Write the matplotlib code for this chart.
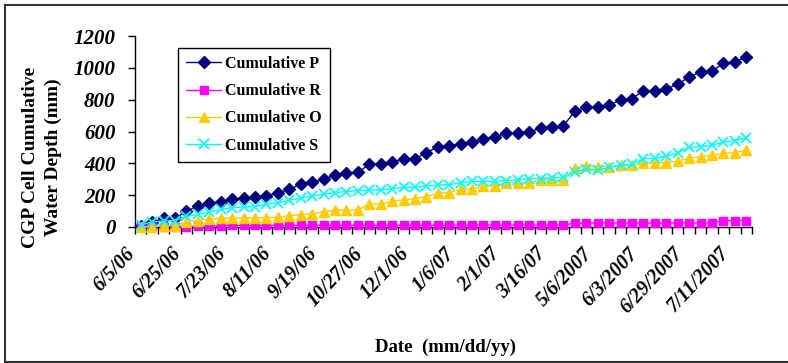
import matplotlib
matplotlib.use("Agg")
import matplotlib.pyplot as plt
import matplotlib.transforms as mtransforms
from matplotlib.lines import Line2D
import numpy as np

# category labels shown every 4th sampling date
date_labels = ["6/5/06", "6/25/06", "7/23/06", "8/11/06", "9/19/06", "10/27/06",
               "12/1/06", "1/6/07", "2/1/07", "3/16/07", "5/6/2007", "6/3/2007",
               "6/29/2007", "7/11/2007"]

# cumulative water depths (mm) per sampling date
cum_p = [8, 29, 54, 54, 100, 130, 151, 159, 176, 180,
         188, 197, 213, 238, 268, 280, 301, 326, 339, 343,
         393, 393, 410, 426, 426, 468, 502, 510, 523, 531,
         556, 564, 590, 590, 594, 623, 627, 636, 728, 753,
         757, 765, 799, 807, 857, 857, 866, 899, 941, 974,
         978, 1029, 1037, 1066]
cum_r = [5, 3, 2, 2, 2, 5, 8, 9, 10, 10,
         10, 10, 10, 10, 10, 11, 11, 11, 11, 11,
         11, 11, 11, 11, 11, 11, 11, 12, 12, 12,
         12, 12, 12, 12, 12, 12, 12, 12, 24, 25,
         25, 25, 25, 25, 25, 25, 25, 25, 25, 25,
         25, 40, 40, 40]
cum_o = [0, 2, 8, 8, 32, 40, 50, 55, 58, 58,
         58, 59, 61, 71, 78, 83, 95, 106, 106, 106,
         145, 145, 161, 170, 178, 191, 213, 216, 237, 237,
         258, 258, 279, 279, 279, 295, 295, 295, 371, 383,
         380, 379, 387, 387, 400, 404, 404, 413, 433, 442,
         450, 463, 467, 484]
cum_s = [15, 30, 38, 40, 66, 80, 95, 110, 122, 125,
         128, 143, 152, 168, 183, 195, 205, 216, 222, 229,
         231, 233, 240, 249, 249, 258, 263, 266, 278, 287,
         287, 288, 291, 295, 304, 304, 308, 312, 346, 362,
         358, 374, 388, 394, 430, 431, 444, 467, 500, 505,
         513, 534, 542, 559]

plt.rcParams["font.family"] = ["Liberation Serif", "DejaVu Serif"]

W, H = 788, 363
fig = plt.figure(figsize=(W / 100, H / 100), dpi=100)
ax = fig.add_axes([135 / W, 1 - 227 / H, (752 - 135) / W, (227 - 36) / H])

x = np.arange(len(cum_p))
ax.plot(x, cum_p, color="#000080", lw=1, marker="D", ms=6, label="Cumulative P", clip_on=False, zorder=3)
ax.plot(x, cum_r, color="#FF00FF", lw=1, marker="s", ms=6, label="Cumulative R", clip_on=False, zorder=3)
ax.plot(x, cum_o, color="#FFCC00", lw=1, marker="^", ms=7.5, label="Cumulative O", clip_on=False, zorder=3)
ax.plot(x, cum_s, color="#00FFFF", lw=1, marker="x", ms=6.5, mew=1.3, label="Cumulative S", clip_on=False, zorder=3)

ax.set_xlim(-0.5, len(x) - 0.5)
ax.set_ylim(0, 1200)
ax.set_yticks(range(0, 1201, 200))
ax.set_yticklabels([str(v) for v in range(0, 1201, 200)],
                   fontsize=15, fontweight="bold", fontstyle="italic")
ax.tick_params(axis="y", length=5, width=1, pad=9, direction="out")

ax.set_xticks(np.arange(-0.5, len(x), 1), minor=True)
ax.set_xticks(x[::4])
ax.set_xticklabels(date_labels, rotation=47, ha="right", va="center",
                   rotation_mode="anchor", fontsize=14.5, fontweight="bold",
                   fontstyle="italic")
ax.tick_params(axis="x", which="major", length=0, pad=17)
ax.tick_params(axis="x", which="minor", length=5, width=1, direction="out")
shift = mtransforms.ScaledTranslation(-0.09, 0, fig.dpi_scale_trans)
for lab in ax.get_xticklabels():
    lab.set_transform(lab.get_transform() + shift)

for side in ("top", "right"):
    ax.spines[side].set_visible(False)
for side in ("left", "bottom"):
    ax.spines[side].set_linewidth(1)
    ax.spines[side].set_color("black")

leg = ax.legend(loc="upper left", bbox_to_anchor=(178 / W, 1 - 48 / H),
                bbox_transform=fig.transFigure, fancybox=False, framealpha=1,
                edgecolor="black", prop={"weight": "bold", "size": 11.5},
                handlelength=2.2, handletextpad=0.25, labelspacing=0.7,
                borderpad=0.5, borderaxespad=0)
leg.get_frame().set_linewidth(1)

fig.text(42 / W, 1 - 157 / H, "CGP Cell Cumulative\nWater Depth (mm)",
         rotation=90, ha="center", va="center", multialignment="center",
         fontsize=14, fontweight="bold", linespacing=1.4)
fig.text(445 / W, 1 - 347 / H, "Date  (mm/dd/yy)", ha="center", va="center",
         fontsize=13.5, fontweight="bold")

# outer frame
frame_kw = dict(transform=fig.transFigure, color="#333333", lw=1.5)
fig.add_artist(Line2D([5 / W, 1], [1 - 5 / H, 1 - 5 / H], **frame_kw))
fig.add_artist(Line2D([5 / W, 5 / W], [1 - 5 / H, 1 - 361.5 / H], **frame_kw))
fig.add_artist(Line2D([5 / W, 1], [1 - 361.5 / H, 1 - 361.5 / H], **frame_kw))

fig.savefig("out.png", dpi=100)
